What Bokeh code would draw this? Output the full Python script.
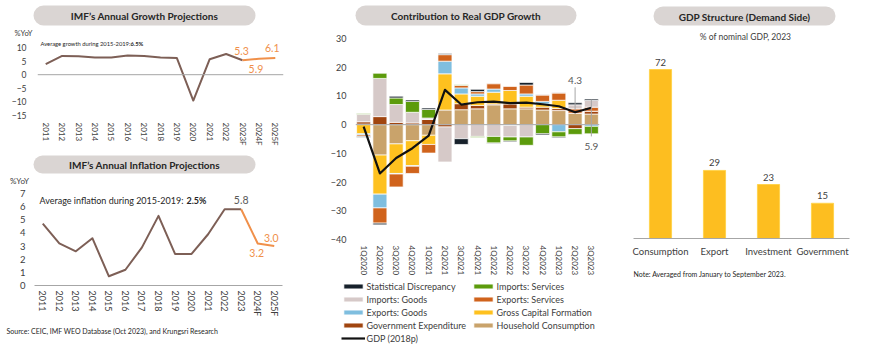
import numpy as np
from bokeh.plotting import figure
from bokeh.models import (FactorRange, Range1d, Span, Label, FixedTicker, Legend, LegendItem,
                          BoxAnnotation)
from bokeh.layouts import row, column
from bokeh.embed import file_html
from bokeh.resources import INLINE
from bokeh.core.properties import value

FONT = "Lato"
TXT = "#404040"
PILL = "#DAD5D3"
BROWN = "#7D5F56"
ORANGE = "#F0904A"

# ---------------- data ----------------
growth_years = ["2011", "2012", "2013", "2014", "2015", "2016", "2017", "2018",
                "2019", "2020", "2021", "2022", "2023F", "2024F", "2025F"]
growth = [3.9, 6.9, 6.8, 6.3, 6.3, 7.1, 6.9, 6.3, 6.1, -9.5, 5.7, 7.6, 5.3, 5.9, 6.1]

infl_years = ["2011", "2012", "2013", "2014", "2015", "2016", "2017", "2018",
              "2019", "2020", "2021", "2022", "2023", "2024F", "2025F"]
inflation = [4.7, 3.2, 2.6, 3.6, 0.7, 1.2, 2.9, 5.3, 2.4, 2.4, 3.9, 5.8, 5.8, 3.2, 3.0]

quarters = ["1Q2020", "2Q2020", "3Q2020", "4Q2020", "1Q2021", "2Q2021", "3Q2021", "4Q2021",
            "1Q2022", "2Q2022", "3Q2022", "4Q2022", "1Q2023", "2Q2023", "3Q2023"]
household = [0.2, -10.6, -6.7, -5.6, -3.7, 5.1, 5.2, 5.5, 6.9, 5.5, 5.5, 5.1, 4.9, 4.0, 3.7]
government = [0.8, 2.8, 0.8, 0.6, 1.8, -0.8, 2.1, 1.2, 0.3, 1.7, 0.6, 1.0, 0.7, -1.4, 1.0]
capital = [-3.2, -13.6, -10.3, -8.7, -3.2, 12.6, 3.4, 3.2, 4.1, 4.7, 3.8, 1.1, 2.9, 0.0, 0.0]
exp_goods = [-0.4, -4.8, -0.2, -0.2, 0.0, 4.4, 2.1, 0.8, 1.1, -0.3, 0.8, 0.9, -2.5, 0.0, -0.6]
exp_services = [-0.5, -5.3, -4.5, -2.5, -3.0, 2.3, 0.9, 0.8, 1.8, 1.4, 3.1, 2.2, 2.5, 1.5, 1.4]
imp_goods = [2.6, 13.3, 6.2, 3.7, 0.5, -12.2, -4.9, -4.1, -4.1, -4.0, -4.3, 0.3, 0.3, 1.4, 2.3]
imp_services = [0.3, 1.8, 2.3, 3.8, 3.0, 0.0, 0.2, -0.4, -2.3, -1.4, -2.9, -3.2, -1.8, -2.0, -2.6]
stat_disc = [-0.3, -0.6, 0.6, 0.5, 0.5, 0.4, -2.0, 0.8, -0.2, -0.3, 0.9, -0.4, -0.3, 0.7, 0.5]
gdp = [-0.7, -17.0, -11.6, -8.2, -3.8, 12.1, 7.0, 7.8, 8.0, 7.5, 7.7, 7.1, 6.4, 4.3, 5.9]
gdp_labelled = ["2Q2023", "3Q2023"]

struct_cats = ["Consumption", "Export", "Investment", "Government"]
struct_vals = [72, 29, 23, 15]


# ---------------- helpers ----------------
def base_fig(w, h, xr, yr, left, right, top, bottom):
    p = figure(width=w, height=h, x_range=xr, y_range=yr,
               min_border_left=left, min_border_right=right,
               min_border_top=top, min_border_bottom=bottom, frame_align=False,
               toolbar_location=None, output_backend="svg", title=None)
    p.outline_line_color = None
    p.xgrid.visible = False
    p.ygrid.visible = False
    p.background_fill_color = "white"
    p.border_fill_color = "white"
    for ax in (p.xaxis[0], p.yaxis[0]):
        ax.major_tick_line_color = None
        ax.minor_tick_line_color = None
        ax.major_tick_out = 0
        ax.major_tick_in = 0
        ax.axis_line_color = None
        ax.major_label_text_font = FONT
        ax.major_label_text_color = TXT
    return p


def deco_fig(w, h):
    # a frame that covers the whole canvas; one data unit = one pixel, y downwards
    p = figure(width=w, height=h, x_range=Range1d(0, w), y_range=Range1d(h, 0),
               min_border=0, frame_align=False, x_axis_location=None, y_axis_location=None,
               toolbar_location=None, output_backend="svg", title=None)
    p.outline_line_color = None
    p.xgrid.visible = False
    p.ygrid.visible = False
    return p


def add_label(p, x, y, text, size, color=TXT, style="normal", align="left", units="canvas"):
    p.add_layout(Label(x=x, y=y, x_units=units, y_units=units, text=text,
                       text_font=FONT, text_font_size=size, text_color=color,
                       text_font_style=style, text_align=align, text_baseline="middle"))


def add_pill(p, left, right, top, bottom, text):
    p.add_layout(BoxAnnotation(left=left, right=right, top=top, bottom=bottom,
                               fill_color=PILL, fill_alpha=1, line_color=None,
                               border_radius=10))
    p.add_layout(Label(x=(left + right) / 2, y=(top + bottom) / 2 + 0.5, text=text,
                       text_font=FONT, text_font_size="10px", text_font_style="bold",
                       text_color="#262626", text_align="center", text_baseline="middle"))


# ---------------- A: growth ----------------
hA = deco_fig(300, 38)
add_pill(hA, 33, 255, 5, 25, "IMF\u2019s Annual Growth Projections")
add_label(hA, 23, 33, "%YoY", "7.5px", align="center", units="data")

pA = base_fig(300, 112, FactorRange(*growth_years), Range1d(-15, 10 + 9 * 25 / 68), 37, 17, 0, 35)
pA.yaxis.ticker = FixedTicker(ticks=[-15, -10, -5, 0, 5, 10])
pA.yaxis.major_label_text_font_size = "8.5px"
pA.yaxis.major_label_standoff = 11
pA.xaxis.major_label_orientation = "vertical"
pA.xaxis.major_label_text_font_size = "8px"
pA.xaxis.major_label_standoff = 7
pA.add_layout(Span(location=0, dimension="width", line_color="#A6A6A6", line_width=1))
pA.line(growth_years[:13], growth[:13], line_color=BROWN, line_width=2, line_join="round")
pA.line(growth_years[12:], growth[12:], line_color=ORANGE, line_width=2, line_join="round")
pA.text(x=growth_years[12:], y=growth[12:], text=[f"{v:.1f}" for v in growth[12:]],
        x_offset=[-1, -3, -3], y_offset=[-9, 10, -10], text_font=value(FONT),
        text_font_size="10.5px", text_color=ORANGE, text_align="center", text_baseline="middle")
add_label(pA, 40, 5, "Average growth during 2015-2019:", "5.8px", color="#262626")
add_label(pA, 130, 5, "6.5%", "5.8px", color="#262626", style="bold")

# ---------------- B: inflation ----------------
hB = deco_fig(300, 37)
add_pill(hB, 33, 255, 5, 23, "IMF\u2019s Annual Inflation Projections")
add_label(hB, 19, 30, "%YoY", "8px", align="center", units="data")

pB = base_fig(300, 133, FactorRange(*infl_years), Range1d(0, 7 + 6 * 7 / 92), 34, 18, 0, 35)
pB.yaxis.ticker = FixedTicker(ticks=list(range(0, 8)))
pB.yaxis.major_label_text_font_size = "9.5px"
pB.yaxis.major_label_standoff = 9
pB.xaxis.axis_line_color = "#A6A6A6"
pB.xaxis.major_label_orientation = "vertical"
pB.xaxis.major_label_text_font_size = "9px"
pB.xaxis.major_label_standoff = 5
pB.line(infl_years[:13], inflation[:13], line_color=BROWN, line_width=2, line_join="round")
pB.line(infl_years[12:], inflation[12:], line_color=ORANGE, line_width=2, line_join="round")
pB.text(x=infl_years[12:13], y=inflation[12:13], text=[f"{inflation[12]:.1f}"],
        y_offset=-9, text_font=value(FONT), text_font_size="10.5px", text_color="#595959",
        text_align="center", text_baseline="middle")
pB.text(x=infl_years[13:], y=inflation[13:], text=[f"{v:.1f}" for v in inflation[13:]],
        x_offset=[-1, -3], y_offset=[10, -8], text_font=value(FONT), text_font_size="10.5px",
        text_color=ORANGE, text_align="center", text_baseline="middle")
add_label(pB, 183, 13, "Average inflation during 2015-2019:", "9px", color="#262626", align="right")
add_label(pB, 186, 13, "2.5%", "9px", color="#262626", style="bold")

fB = deco_fig(300, 29)
add_label(fB, 6, 10, "Source: CEIC, IMF WEO Database (Oct 2023), and Krungsri Research", "7px",
          color="#262626", units="data")

# ---------------- C: contribution ----------------
hC = deco_fig(320, 30)
add_pill(hC, 55, 276, 5, 25, "Contribution to Real GDP Growth")

pC = base_fig(320, 249, FactorRange(*quarters), Range1d(-40, 30 + 8 * 70 / 201), 55, 21, 0, 40)
pC.yaxis.ticker = FixedTicker(ticks=list(range(-40, 31, 10)))
pC.yaxis.major_label_text_font_size = "9px"
pC.yaxis.major_label_standoff = 9
pC.xaxis.major_label_orientation = "vertical"
pC.xaxis.major_label_text_font_size = "8px"
pC.xaxis.major_label_standoff = 6
pC.add_layout(Span(location=0, dimension="width", line_color="#A6A6A6", line_width=1))

series = [
    ("Household Consumption", household, "#C9A36B"),
    ("Government Expenditure", government, "#A0450F"),
    ("Gross Capital Formation", capital, "#FEC11F"),
    ("Exports: Goods", exp_goods, "#7FBEDF"),
    ("Exports: Services", exp_services, "#D0631C"),
    ("Imports: Goods", imp_goods, "#D6C9C8"),
    ("Imports: Services", imp_services, "#5C9B0C"),
    ("Statistical Discrepancy", stat_disc, "#17212B"),
]
pos_base = np.zeros(len(quarters))
neg_base = np.zeros(len(quarters))
for name, vals, col in series:
    v = np.array(vals, dtype=float)
    bottom = np.where(v >= 0, pos_base, neg_base)
    top = bottom + v
    pos_base = np.where(v >= 0, top, pos_base)
    neg_base = np.where(v < 0, top, neg_base)
    pC.vbar(x=quarters, bottom=bottom, top=top, width=0.86,
            fill_color=col, line_color="white", line_width=0.7)

pC.line(quarters, gdp, line_color="#111111", line_width=2.2, line_join="round")

lab_vals = [gdp[quarters.index(q)] for q in gdp_labelled]
pC.segment(x0=gdp_labelled, x1=gdp_labelled, y0=[lab_vals[0] + 0.7, lab_vals[1] + 2.8],
           y1=[lab_vals[0] + 8.7, lab_vals[1] - 10.0], line_color="#A6A6A6", line_width=1)
pC.text(x=gdp_labelled, y=lab_vals, text=[f"{v:.1f}" for v in lab_vals], y_offset=[-32, 39],
        text_font=value(FONT), text_font_size="10px", text_color="#595959",
        text_align="center", text_baseline="middle")

# legend panel: legend-only renderers with the same styles and no drawable data
fC = deco_fig(320, 70)
nan1 = np.array([np.nan])
leg_r = {}
for name, vals, col in series:
    leg_r[name] = fC.vbar(x=nan1, top=nan1, width=1, fill_color=col, line_color="white",
                          line_width=0.7)
leg_r["GDP (2018p)"] = fC.line(x=nan1, y=nan1, line_color="#111111", line_width=2.2)
legend_order = ["Statistical Discrepancy", "Imports: Goods", "Exports: Goods",
                "Government Expenditure", "GDP (2018p)",
                "Imports: Services", "Exports: Services", "Gross Capital Formation",
                "Household Consumption"]
lg = Legend(items=[LegendItem(label=n, renderers=[leg_r[n]]) for n in legend_order],
            location=(40.6, 4.5), orientation="vertical", nrows=5,
            padding=0, margin=0, spacing=0,
            label_height=13, label_width=104, glyph_height=6, glyph_width=24, label_standoff=2,
            label_text_font=FONT, label_text_font_size="9px", label_text_color=TXT,
            background_fill_alpha=0, border_line_color=None)
fC.add_layout(lg)

# ---------------- D: structure ----------------
hD = deco_fig(250, 45)
add_pill(hD, 33, 215, 6, 25, "GDP Structure (Demand Side)")
add_label(hD, 125, 36, "% of nominal GDP, 2023", "8.5px", align="center", units="data")

pD = base_fig(250, 217, FactorRange(*struct_cats), Range1d(0, 193 * 72 / 169), 13, 21, 0, 24)
pD.yaxis.visible = False
pD.xaxis.axis_line_color = "#A6A6A6"
pD.xaxis.major_label_text_font_size = "9.5px"
pD.xaxis.major_label_standoff = 7
pD.vbar(x=struct_cats, top=struct_vals, width=0.41, fill_color="#FDBE20",
        line_color="#FFD34D", line_width=1)
pD.text(x=struct_cats, y=struct_vals, text=[str(v) for v in struct_vals], y_offset=-4,
        text_font=value(FONT), text_font_size="9.5px", text_color=TXT,
        text_align="center", text_baseline="bottom")

fD = deco_fig(250, 87)
add_label(fD, 13, 11, "Note: Averaged from January to September 2023.", "7px",
          color="#262626", units="data")

layout = row(column(hA, pA, hB, pB, fB), column(hC, pC, fC), column(hD, pD, fD))
open("out.html", "w").write(file_html(layout, INLINE))
